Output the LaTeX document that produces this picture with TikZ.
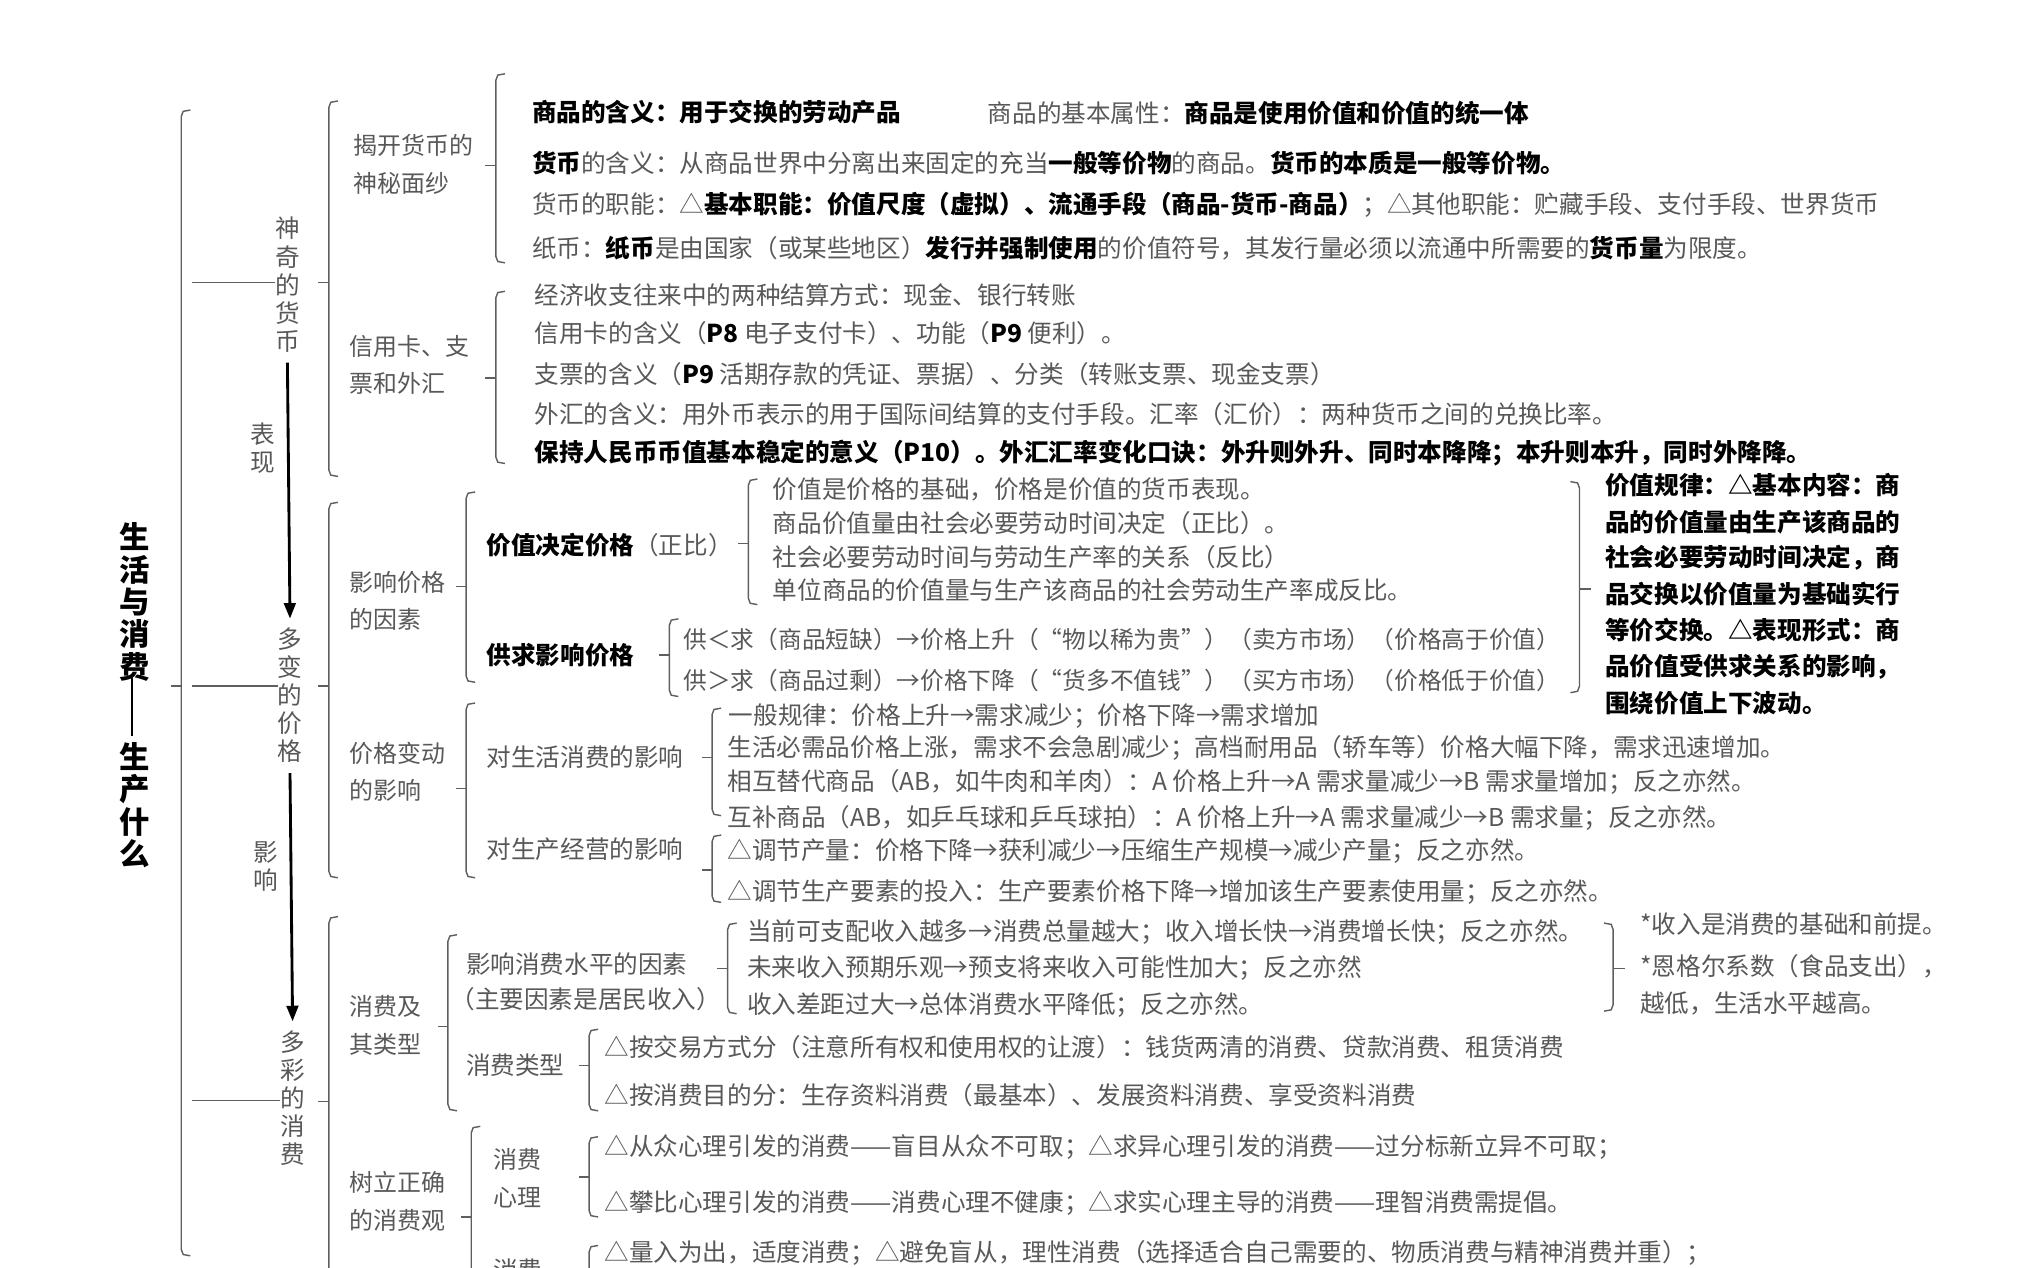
\documentclass[tikz,border=0pt]{standalone}
\usepackage{fontspec}
\setmainfont{Noto Sans CJK SC}
\usetikzlibrary{arrows.meta}
\definecolor{tg}{RGB}{88,88,88}
\definecolor{lg}{RGB}{95,95,95}
\newcommand{\hb}[1]{{\bfseries\color{black}#1}}
\newcommand{\mybrk}[4]{%
  \draw[brk] (#1+7,#2) -- (#1+1.5,#2+1) -- (#1,#2+5) -- (#1,#3-5) -- (#1+1.5,#3-1) -- (#1+7,#3);
  \draw[brk] (#1,#4) -- (#1-8,#4);}
\newcommand{\mybrkR}[4]{%
  \draw[brk] (#1-7,#2) -- (#1-1.5,#2+1) -- (#1,#2+5) -- (#1,#3-5) -- (#1-1.5,#3-1) -- (#1-7,#3);
  \draw[brk] (#1,#4) -- (#1+9,#4);}
\begin{document}
\begin{tikzpicture}[x=1pt,y=-1pt,
  every node/.style={inner sep=0pt, outer sep=0pt},
  t/.style={anchor=west, text=tg, font=\fontsize{19}{22}\selectfont},
  ts/.style={anchor=west, text=tg, font=\fontsize{18.3}{22}\selectfont},
  tb/.style={anchor=west, text=black, font=\fontsize{19}{22}\bfseries\selectfont},
  lab/.style={anchor=west, text=tg, align=left, font=\fontsize{18.5}{29}\selectfont},
  vt/.style={align=center, text=tg, font=\fontsize{19}{21.7}\selectfont},
  title/.style={align=center, text=black, font=\fontsize{23.5}{25}\bfseries\selectfont},
  brk/.style={draw=lg, line width=1.1pt},
  conn/.style={draw=lg, line width=1.1pt},
  arr/.style={-{Triangle[length=12pt,width=9pt]}, line width=2.2pt, draw=black},
]
\useasboundingbox (0,0) rectangle (1568,979);
\clip (0,0) rectangle (1568,979);

% ---- title
\node[title] (tt1) at (104,465) {生\\活\\与\\消\\费};
\node[title] (tt2) at (104,622) {生\\产\\什\\么};
\draw[line width=1.4pt] (tt1.south) ++(-2,-4) coordinate (dsh1) -- ([xshift=-2pt,yshift=5pt]tt2.north);

% ---- top bracket
\mybrk{140}{85}{970}{530}

% ---- second level (vertical texts)
\node[vt] (shenqi) at (222,220) {神\\奇\\的\\货\\币};
\node[vt] (duobian) at (224,537) {多\\变\\的\\价\\格};
\node[vt] (duocai) at (226,848) {多\\彩\\的\\消\\费};
\coordinate (h1) at (148,218);
\coordinate (h2) at (148,530);
\coordinate (h3) at (148,850);
\draw[conn] (h1) -- (h1 -| shenqi.west);
\draw[conn] (h2) -- (h2 -| duobian.west);
\draw[conn] (h3) -- (h3 -| duocai.west);
\draw[arr] ([yshift=-8pt]shenqi.south) -- ([yshift=7pt]duobian.north);
\draw[arr] ([yshift=-8pt]duobian.south) -- ([yshift=7pt]duocai.north);
\node[vt] (biaoxian) at (203,346) {表\\现};
\node[vt] (yingxiang) at (205,669) {影\\响};

\mybrk{254}{78}{368}{218}
\mybrk{254}{388}{678}{530}
\mybrk{254}{708}{1010}{851}

% ---- third level labels
\node[lab] (jie) at (273,127) {揭开货币的\\神秘面纱};
\node[lab] (xyk) at (270,282) {信用卡、支\\票和外汇};
\node[lab] (yxjg) at (270,464) {影响价格\\的因素};
\node[lab] (jgbd) at (270,596) {价格变动\\的影响};
\node[lab] (xfji) at (270,792) {消费及\\其类型};
\node[lab] (slzq) at (270,928) {树立正确\\的消费观};

% ---- group 1
\mybrk{383}{57}{203}{128}
\node[t] (a1) at (411,87) {\hb{商品的含义：用于交换的劳动产品}};
\node[t] (a1b) at (763,87) {商品的基本属性：\hb{商品是使用价值和价值的统一体}};
\node[t] (a2) at (411,126) {\hb{货币}的含义：从商品世界中分离出来固定的充当\hb{一般等价物}的商品。\hb{货币的本质是一般等价物。}};
\node[t] (a3) at (411,158) {货币的职能：△\hb{基本职能：价值尺度（虚拟）、流通手段（商品-货币-商品）}；△其他职能：贮藏手段、支付手段、世界货币};
\node[t] (a4) at (411,192) {纸币：\hb{纸币}是由国家（或某些地区）\hb{发行并强制使用}的价值符号，其发行量必须以流通中所需要的\hb{货币量}为限度。};

% ---- group 2
\mybrk{383}{225}{358}{292}
\node[t] (b1) at (413,228) {经济收支往来中的两种结算方式：现金、银行转账};
\node[t] (b2) at (413,257) {信用卡的含义（\hb{P8} 电子支付卡）、功能（\hb{P9} 便利）。};
\node[t] (b3) at (413,289) {支票的含义（\hb{P9} 活期存款的凭证、票据）、分类（转账支票、现金支票）};
\node[t] (b4) at (413,320) {外汇的含义：用外币表示的用于国际间结算的支付手段。汇率（汇价）：两种货币之间的兑换比率。};
\node[tb] (b5) at (413,350) {保持人民币币值基本稳定的意义（P10）。外汇汇率变化口诀：外升则外升、同时本降降；本升则本升，同时外降降。};

% ---- group 3
\mybrk{360}{380}{527}{453}
\node[t] (c1) at (376,421) {\hb{价值决定价格}（正比）};
\mybrk{578}{370}{467}{420}
\node[t] (c11) at (597,378) {价值是价格的基础，价格是价值的货币表现。};
\node[t] (c12) at (597,404) {商品价值量由社会必要劳动时间决定（正比）。};
\node[t] (c13) at (597,430) {社会必要劳动时间与劳动生产率的关系（反比）};
\node[t] (c14) at (597,456) {单位商品的价值量与生产该商品的社会劳动生产率成反比。};
\node[tb] (c2) at (376,506) {供求影响价格};
\mybrk{517}{478}{538}{506}
\node[ts] (c21) at (528,494) {供＜求（商品短缺）→价格上升（“物以稀为贵”）（卖方市场）（价格高于价值）};
\node[ts] (c22) at (528,526) {供＞求（商品过剩）→价格下降（“货多不值钱”）（买方市场）（价格低于价值）};
\mybrkR{1220}{372}{535}{455}
\node[tb] (l1) at (1240,375) {价值规律：△基本内容：商};
\node[tb] (l2) at (1240,403) {品的价值量由生产该商品的};
\node[tb] (l3) at (1240,431) {社会必要劳动时间决定，商};
\node[tb] (l4) at (1240,459) {品交换以价值量为基础实行};
\node[tb] (l5) at (1240,487) {等价交换。△表现形式：商};
\node[tb] (l6) at (1240,515) {品价值受供求关系的影响，};
\node[tb] (l7) at (1240,543) {围绕价值上下波动。};

% ---- group 4
\mybrk{360}{543}{678}{609}
\node[t] (d1) at (376,585) {对生活消费的影响};
\mybrk{550}{547}{630}{585}
\node[t] (d11) at (563,553) {一般规律：价格上升→需求减少；价格下降→需求增加};
\node[t] (d12) at (562,578) {生活必需品价格上涨，需求不会急剧减少；高档耐用品（轿车等）价格大幅下降，需求迅速增加。};
\node[t] (d13) at (562,604) {相互替代商品（AB，如牛肉和羊肉）：A 价格上升→A 需求量减少→B 需求量增加；反之亦然。};
\node[t] (d14) at (562,632) {互补商品（AB，如乒乓球和乒乓球拍）：A 价格上升→A 需求量减少→B 需求量；反之亦然。};
\node[t] (d2) at (376,656) {对生产经营的影响};
\mybrk{550}{645}{697}{672}
\node[t] (d21) at (562,657) {△调节产量：价格下降→获利减少→压缩生产规模→减少产量；反之亦然。};
\node[t] (d22) at (562,689) {△调节生产要素的投入：生产要素价格下降→增加该生产要素使用量；反之亦然。};

% ---- group 5
\mybrk{346}{722}{858}{793}
\node[t] (e1) at (360,745) {影响消费水平的因素};
\node[t] (e1b) at (348,772) {（主要因素是居民收入）};
\mybrk{562}{713}{783}{748}
\node[t] (e11) at (577,720) {当前可支配收入越多→消费总量越大；收入增长快→消费增长快；反之亦然。};
\node[t] (e12) at (577,748) {未来收入预期乐观→预支将来收入可能性加大；反之亦然};
\node[t] (e13) at (577,776) {收入差距过大→总体消费水平降低；反之亦然。};
\mybrkR{1246}{713}{781}{748}
\node[t] (e21) at (1267,714) {*收入是消费的基础和前提。};
\node[t] (e22) at (1267,746) {*恩格尔系数（食品支出），};
\node[t] (e23) at (1267,775) {越低，生活水平越高。};
\node[t] (e3) at (360,823) {消费类型};
\mybrk{455}{795}{858}{823}
\node[t] (e31) at (467,809) {△按交易方式分（注意所有权和使用权的让渡）：钱货两清的消费、贷款消费、租赁消费};
\node[t] (e32) at (467,846) {△按消费目的分：生存资料消费（最基本）、发展资料消费、享受资料消费};

% ---- group 6
\mybrk{364}{870}{1030}{940}
\node[lab] (f1) at (381,910) {消费\\心理};
\mybrk{455}{878}{940}{909}
\node[t] (f11) at (467,886) {△从众心理引发的消费——盲目从众不可取；△求异心理引发的消费——过分标新立异不可取；};
\node[t] (f12) at (467,929) {△攀比心理引发的消费——消费心理不健康；△求实心理主导的消费——理智消费需提倡。};
\node[t] (f2) at (381,981) {消费};
\draw[brk] (462,962) -- (456.5,963) -- (455,967) -- (455,1000);
\node[t] (f21) at (467,968) {△量入为出，适度消费；△避免盲从，理性消费（选择适合自己需要的、物质消费与精神消费并重）；};
\end{tikzpicture}
\end{document}
